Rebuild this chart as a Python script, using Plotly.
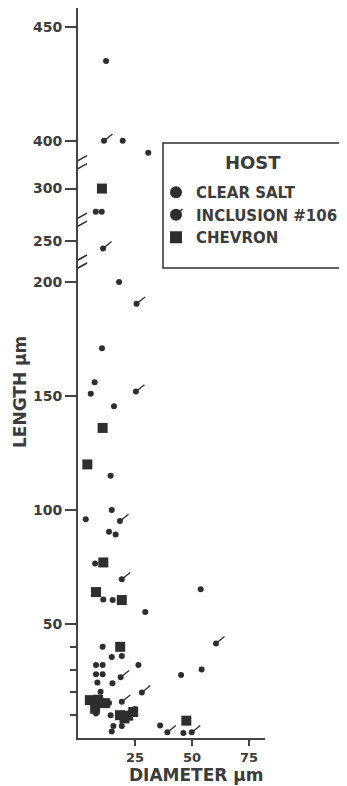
import numpy as np
import plotly.graph_objects as go

# ---------------- data (diameter µm, length µm) ----------------
clear_x = [12.3, 19.6, 30.8, 7.8, 10.4, 18.0, 10.5, 7.3, 5.6, 15.8, 14.3, 14.8, 3.4,
           13.6, 16.5, 7.5, 11.1, 15.2, 29.5, 53.8, 10.8, 14.8, 19.2, 7.9, 10.8, 26.5,
           7.9, 10.8, 45.2, 54.2, 8.5, 15.1, 9.9, 13.6, 7.9, 14.3, 25.0, 15.5, 19.2,
           14.8, 36.0, 46.2]
clear_y = [435, 400, 375, 278, 278, 200, 171, 156, 151, 145.5, 115, 100, 96,
           90.5, 89.3, 76.5, 60.8, 60.5, 55.3, 65.2, 40, 35.5, 36, 32, 32, 32,
           28, 28, 27.6, 30, 24.3, 24, 20.3, 15.4, 10.8, 10, 12.7, 5.3, 5.3,
           2.8, 5.5, 2.2]

incl_x = [11.4, 11.0, 25.7, 25.4, 18.4, 19.2, 18.7, 28.0, 19.2, 60.5, 39.2, 49.9]
incl_y = [400, 241, 190.5, 152, 95.2, 69.6, 26.6, 20.0, 15.9, 41.5, 2.5, 2.5]

chev_x = [10.5, 10.8, 4.1, 11.1, 7.9, 19.2, 18.5, 5.2, 8.8, 11.8, 7.5,
          18.4, 22.0, 24.2, 20.4, 47.5]
chev_y = [300, 136, 120, 77, 64, 60.5, 40, 16.6, 16.8, 15.3, 12.8,
          10.0, 9.8, 11.4, 8.6, 7.6]

y_tick_vals = [50, 100, 150, 200, 250, 300, 400, 450]
y_minor_vals = [10, 20, 30, 40]
x_tick_vals = [25, 50, 75]
axis_breaks = [222, 268, 350]

# broken (piecewise) length scale
seg_real = [0, 200, 250, 300, 400, 500]
seg_disp = [0, 200, 218, 241, 262, 362]


def ys(v):
    return np.interp(np.asarray(v, dtype=float), seg_real, seg_disp)


INK = "#2e2e2e"
TXT = "#3c3c3c"
FONT = "DejaVu Sans"

# plot-area geometry (page pixels; page has an 8 px body margin)
PL, PR, PT, PB = 78, 265, 8, 738
PW, PH = PR - PL, PB - PT


def px(page_x):
    return (page_x - PL) / PW


def py(page_y):
    return (PB - page_y) / PH


fig = go.Figure()
fig.add_trace(go.Scatter(x=clear_x, y=ys(clear_y), mode="markers", name="CLEAR SALT",
                         marker=dict(symbol="circle", size=6, color=INK)))
fig.add_trace(go.Scatter(x=incl_x, y=ys(incl_y), mode="markers", name="INCLUSION #106",
                         marker=dict(symbol="circle", size=6, color=INK)))
fig.add_trace(go.Scatter(x=chev_x, y=ys(chev_y), mode="markers", name="CHEVRON",
                         marker=dict(symbol="square", size=10, color=INK)))

annotations = []
# tails on inclusion markers
for xi, yi in zip(incl_x, ys(incl_y)):
    annotations.append(dict(x=xi, y=yi, xref="x", yref="y", text="", showarrow=True,
                            ax=10, ay=-8, arrowhead=0, arrowwidth=1.3,
                            arrowcolor=INK, standoff=0, startstandoff=0))

# axis titles
annotations.append(dict(text="LENGTH µm", xref="paper", yref="paper",
                        x=px(20), y=py(392), showarrow=False,
                        textangle=-90, xanchor="center", yanchor="middle",
                        font=dict(family=FONT, size=17, color=TXT, weight="bold")))
annotations.append(dict(text="DIAMETER µm", xref="paper", yref="paper",
                        x=px(196), y=py(775), showarrow=False,
                        xanchor="center", yanchor="middle",
                        font=dict(family=FONT, size=17, color=TXT, weight="bold")))

# legend box + title
BOX_L, BOX_R, BOX_T, BOX_B = 163, 343, 143, 268
LEG_LEFT = 156
annotations.append(dict(text="HOST", xref="paper", yref="paper",
                        x=px((BOX_L + BOX_R) / 2), y=py(163), showarrow=False,
                        xanchor="center", yanchor="middle",
                        font=dict(family=FONT, size=18, color=TXT, weight="bold")))
# tail on the legend symbol of the inclusion entry
annotations.append(dict(x=px(LEG_LEFT + 20), y=py(214), xref="paper", yref="paper",
                        text="", showarrow=True, ax=8, ay=-6, arrowhead=0,
                        arrowwidth=1.3, arrowcolor=INK, standoff=0, startstandoff=0))

shapes = [dict(type="rect", xref="paper", yref="paper",
               x0=px(BOX_L), x1=px(BOX_R), y0=py(BOX_B), y1=py(BOX_T),
               line=dict(color=INK, width=1.5), fillcolor="rgba(0,0,0,0)")]
for b in axis_breaks:
    for off in (-4, 4):
        shapes.append(dict(type="line", xref="x", yref="y",
                           xsizemode="pixel", xanchor=0, x0=-9, x1=9,
                           ysizemode="pixel", yanchor=float(ys(b)),
                           y0=-5 + off, y1=5 + off,
                           line=dict(color=INK, width=1.6)))

fig.update_layout(
    width=339, height=778,
    margin=dict(l=PL - 8, r=339 - (PR - 8), t=PT - 8, b=778 - (PB - 8)),
    paper_bgcolor="white", plot_bgcolor="white",
    showlegend=True,
    legend=dict(x=px(LEG_LEFT), y=py(176), xanchor="left", yanchor="top",
                bgcolor="rgba(0,0,0,0)", borderwidth=0,
                font=dict(family=FONT, size=15, color=TXT, weight="bold"),
                itemsizing="constant"),
    annotations=annotations,
    shapes=shapes,
)

fig.update_xaxes(range=[0, 82], showgrid=False, zeroline=False,
                 showline=True, linecolor="#444", linewidth=2,
                 ticks="outside", ticklen=6, tickwidth=2, tickcolor="#444",
                 tickvals=x_tick_vals, ticktext=[str(v) for v in x_tick_vals],
                 tickfont=dict(family=FONT, size=13, color=TXT, weight="bold"))

fig.update_yaxes(range=[0, 320.2], showgrid=False, zeroline=False,
                 showline=True, linecolor="#444", linewidth=2,
                 ticks="outside", ticklen=11, tickwidth=2, tickcolor="#444",
                 tickvals=ys(y_tick_vals), ticktext=[str(v) for v in y_tick_vals],
                 tickfont=dict(family=FONT, size=14, color=TXT, weight="bold"),
                 minor=dict(tickvals=ys(y_minor_vals), ticks="outside", ticklen=6,
                            tickwidth=2, tickcolor="#444", showgrid=False))

fig.write_html("out.html")
